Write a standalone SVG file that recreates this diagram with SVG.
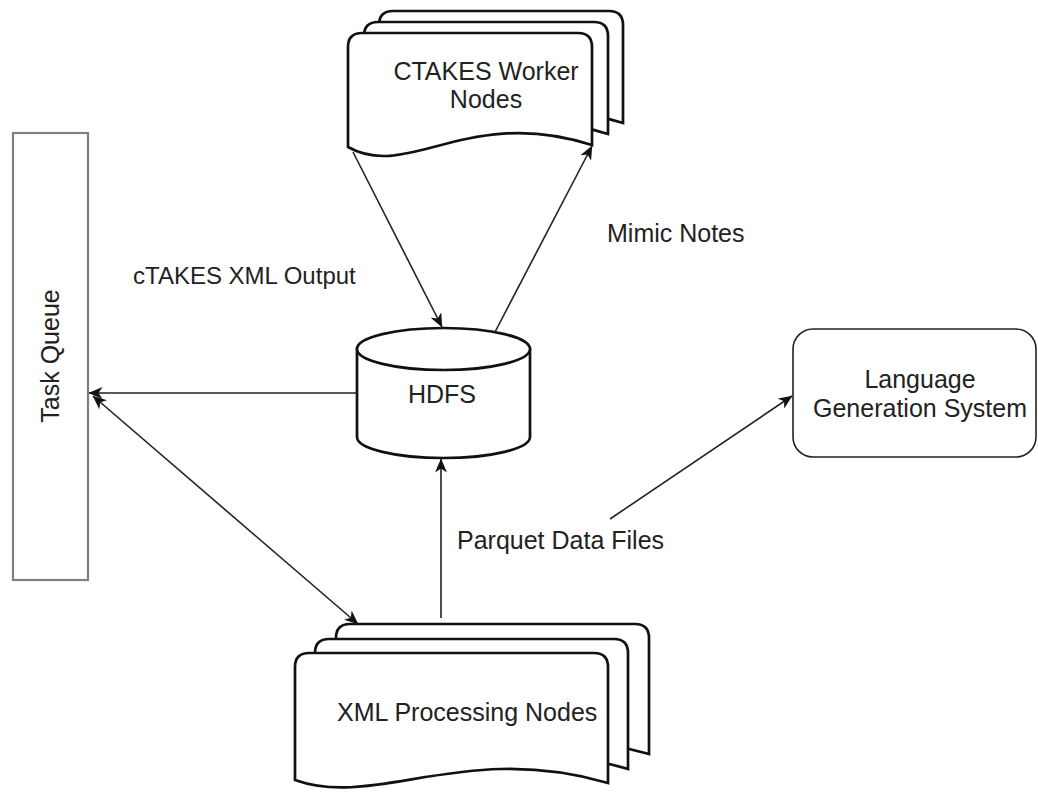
<svg xmlns="http://www.w3.org/2000/svg" width="1038" height="793" viewBox="0 0 1038 793">
<style>
.lbl{font-family:"Liberation Sans",Arial,Helvetica,sans-serif;font-size:25px;fill:#222}
.shape{fill:#fff;stroke:#111;stroke-width:2.7}
.conn{fill:none;stroke:#222;stroke-width:1.6}
</style>
<defs>
<marker id="arr" viewBox="0 0 14 12" markerUnits="userSpaceOnUse" markerWidth="14" markerHeight="12" refX="13.5" refY="6" orient="auto-start-reverse">
<path d="M0,0 L14,6 L0,12 L4,6 Z" fill="#111"/>
</marker>
<path id="wpage" d="M0,114 L0,14 Q0,0 14,0 L230,0 Q244,0 244,14 L244,112 C120,72 60,148 0,114 Z"/>
<path id="xpage" d="M0,127 L0,14 Q0,0 14,0 L299,0 Q313,0 313,14 L313,130 C170,88 80,156 0,127 Z"/>
</defs>
<rect width="1038" height="793" fill="#fff"/>

<g id="task-queue">
<rect x="13" y="133" width="75" height="447" fill="#fff" stroke="#808080" stroke-width="2.2"/>
<text class="lbl" text-anchor="middle" transform="translate(59,356) rotate(-90)">Task Queue</text>
</g>

<g id="ctakes-worker-nodes">
<use href="#wpage" class="shape" transform="translate(379,11)"/>
<use href="#wpage" class="shape" transform="translate(364,22)"/>
<use href="#wpage" class="shape" transform="translate(348,33)"/>
<text class="lbl" text-anchor="middle" x="486" y="80">CTAKES Worker</text>
<text class="lbl" text-anchor="middle" x="486" y="108">Nodes</text>
</g>

<g id="hdfs">
<path class="shape" d="M357,349 L357,437 A86.5,21 0 0 0 530,437 L530,349"/>
<ellipse class="shape" cx="443.5" cy="349" rx="86.5" ry="21"/>
<text class="lbl" text-anchor="middle" x="442" y="403">HDFS</text>
</g>

<g id="language-generation-system">
<rect x="793" y="329" width="243" height="128" rx="20" ry="20" fill="#fff" stroke="#222" stroke-width="1.6"/>
<text class="lbl" text-anchor="middle" x="920" y="388">Language</text>
<text class="lbl" text-anchor="middle" x="920" y="417">Generation System</text>
</g>

<g id="xml-processing-nodes">
<use href="#xpage" class="shape" transform="translate(336,624)"/>
<use href="#xpage" class="shape" transform="translate(315,639)"/>
<use href="#xpage" class="shape" transform="translate(295,653)"/>
<text class="lbl" x="337" y="721">XML Processing Nodes</text>
</g>

<g id="connectors">
<line class="conn" x1="353" y1="152" x2="442" y2="327" marker-end="url(#arr)"/>
<line class="conn" x1="495" y1="332" x2="592" y2="146" marker-end="url(#arr)"/>
<line class="conn" x1="357" y1="393" x2="89" y2="393" marker-end="url(#arr)"/>
<line class="conn" x1="93" y1="396" x2="358" y2="624" marker-start="url(#arr)" marker-end="url(#arr)"/>
<line class="conn" x1="441" y1="618" x2="441" y2="459" marker-end="url(#arr)"/>
<line class="conn" x1="610" y1="519" x2="792" y2="396" marker-end="url(#arr)"/>
</g>

<g id="labels">
<text class="lbl" x="133" y="284" style="font-size:24px">cTAKES XML Output</text>
<text class="lbl" x="607" y="242">Mimic Notes</text>
<text class="lbl" x="457" y="549">Parquet Data Files</text>
</g>
</svg>
